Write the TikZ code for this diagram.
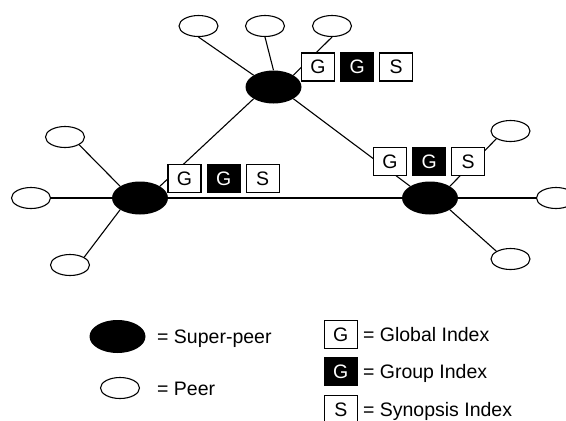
\documentclass[tikz,border=0pt]{standalone}
\usepackage{fontspec}
\setmainfont{Liberation Sans}
\usetikzlibrary{shapes.geometric,positioning}

\tikzset{
  peer/.style={ellipse,draw,line width=1.1pt,fill=white,minimum width=39pt,minimum height=21pt,inner sep=0pt},
  superpeer/.style={ellipse,fill=black,minimum width=56pt,minimum height=33pt,inner sep=0pt},
  idxbox/.style={draw,line width=1.1pt,fill=white,minimum width=33pt,minimum height=28pt,inner sep=0pt},
  groupidx/.style={idxbox,fill=black,text=white},
  link/.style={line width=1.1pt},
  legtext/.style={anchor=west,text height=13.5pt,text depth=0pt,inner sep=0pt}
}

\begin{document}
\begin{tikzpicture}[x=1pt,y=-1pt,font=\fontsize{19.5}{23}\selectfont]
    \useasboundingbox (0,0) rectangle (566,421);
    \node[superpeer] (top) at (273.5,87) {};
    \node[superpeer] (left) at (140,198) {};
    \node[superpeer] (right) at (430,198) {};
    \node[peer] (pt1) at (198.5,26) {};
    \node[peer] (pt2) at (265,26) {};
    \node[peer] (pt3) at (332,26) {};
    \node[peer] (pl1) at (65,137) {};
    \node[peer] (pl2) at (31,198) {};
    \node[peer] (pl3) at (70,265) {};
    \node[peer] (pr1) at (510.5,131) {};
    \node[peer] (pr2) at (556,198) {};
    \node[peer] (pr3) at (510.5,259) {};
    \draw[link] (pt1.south) -- (top.north west);
    \draw[link] (pt2.south) -- (top.north);
    \draw[link] (pt3.south) -- (top.north east);
    \draw[link] (top.south west) -- (left.north east);
    \draw[link] (top.south east) -- (right.north west);
    \draw[link] (left.east) -- (right.west);
    \draw[link] (pl1.south east) -- (left.north west);
    \draw[link] (pl2.east) -- (left.west);
    \draw[link] (pl3.north east) -- (left.south west);
    \draw[link] (right.north east) -- (pr1.south west);
    \draw[link] (right.east) -- (pr2.west);
    \draw[link] (right.south east) -- (pr3.north west);
    \node[idxbox] (tg1) at (318,67) {G};
    \node[groupidx,right=5pt of tg1] (tg2) {G};
    \node[idxbox,right=5pt of tg2] (ts) {S};
    \node[idxbox] (lg1) at (184.5,178.3) {G};
    \node[groupidx,right=5pt of lg1] (lg2) {G};
    \node[idxbox,right=5pt of lg2] (ls) {S};
    \node[idxbox] (rg1) at (390,161.7) {G};
    \node[groupidx,right=5pt of rg1] (rg2) {G};
    \node[idxbox,right=5pt of rg2] (rs) {S};
    \node[superpeer] (keysp) at (117.5,336.5) {};
    \node[peer] (keyp) at (120,388) {};
    \node[legtext] (keysptext) at (157,336.5) {= Super-peer};
    \node[legtext] (keyptext) at (157,389) {= Peer};
    \node[idxbox] (keyg1) at (340.8,334.3) {G};
    \node[groupidx,below=8.5pt of keyg1] (keyg2) {G};
    \node[idxbox,below=8.5pt of keyg2] (keys) {S};
    \node[legtext,right=5pt of keyg1] (keyg1text) {= Global Index};
    \node[legtext,right=5pt of keyg2] (keyg2text) {= Group Index};
    \node[legtext,right=5pt of keys] (keystext) {= Synopsis Index};
\end{tikzpicture}
\end{document}
